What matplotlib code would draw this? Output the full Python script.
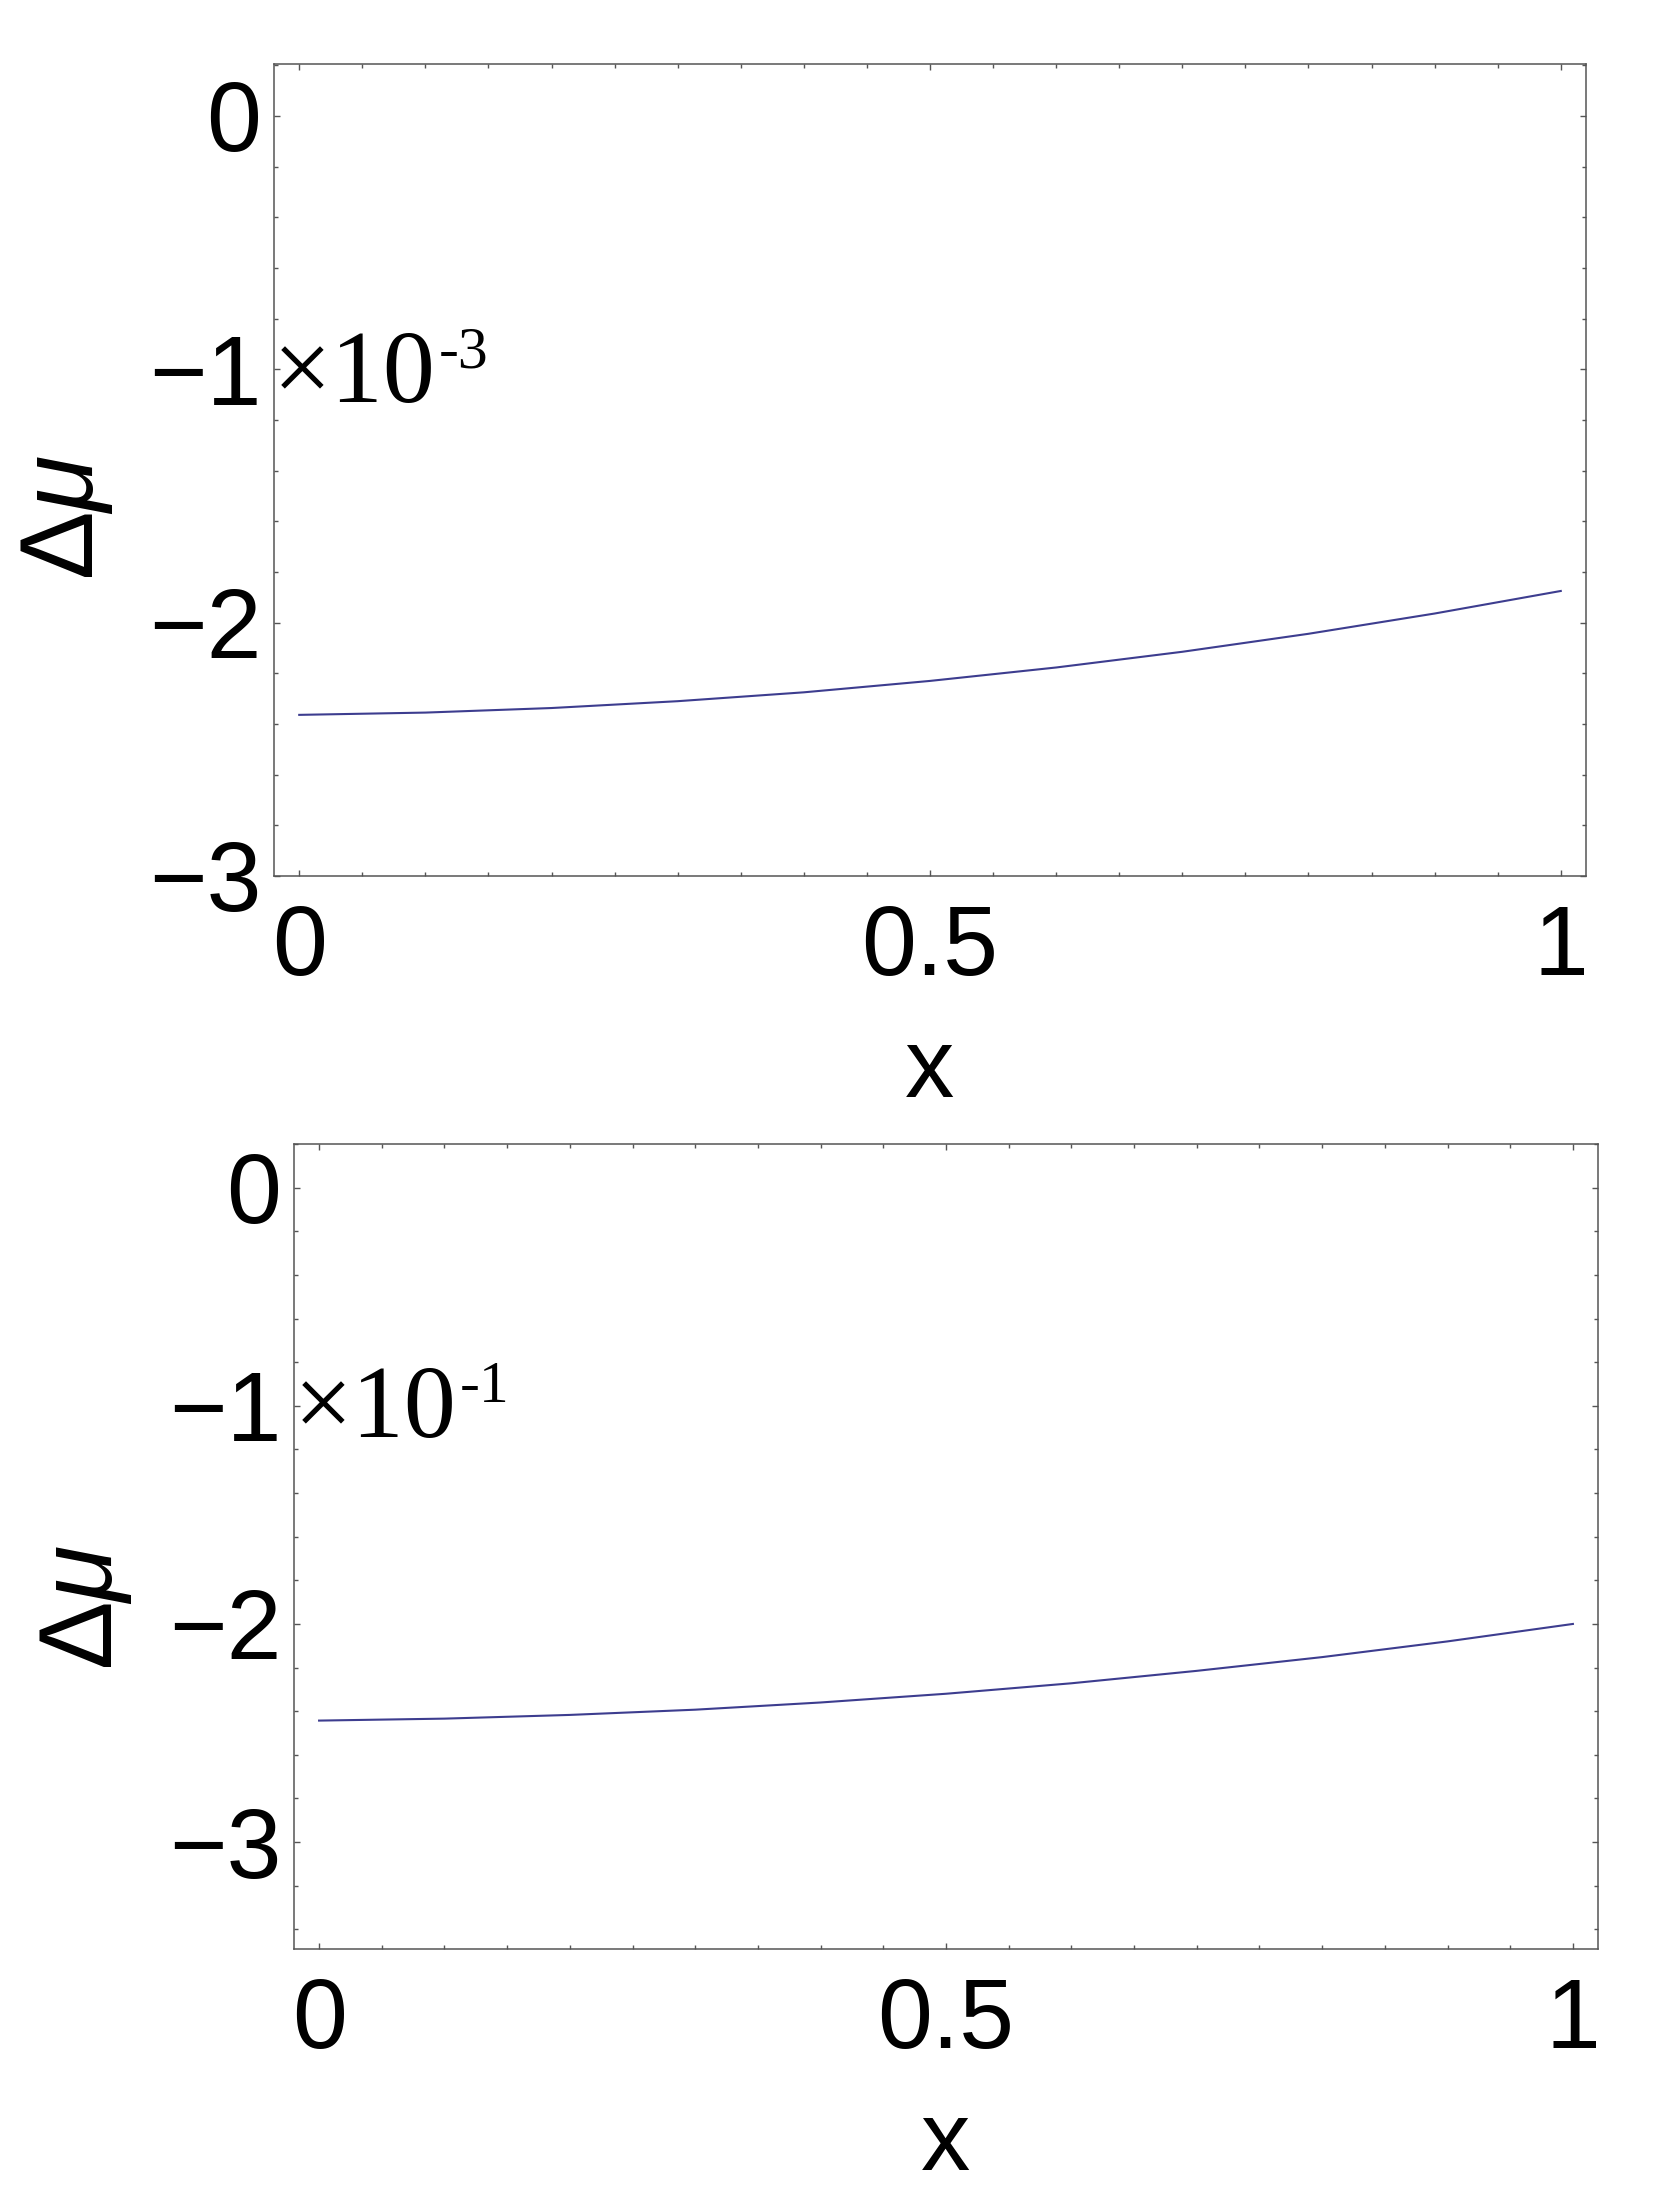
import matplotlib
matplotlib.use('Agg')
import numpy as np
from matplotlib import pyplot as plt
from matplotlib.ticker import FixedLocator, MultipleLocator, FuncFormatter

# values (delta mu in units of the multiplier)
x_vals = [0.0, 0.1, 0.2, 0.3, 0.4, 0.5, 0.6, 0.7, 0.8, 0.9, 1.0]
dmu_top = [-2.364, -2.355, -2.337, -2.310, -2.275, -2.230, -2.177, -2.115, -2.044, -1.964, -1.875]
dmu_bottom = [-2.443, -2.434, -2.417, -2.393, -2.360, -2.320, -2.272, -2.215, -2.152, -2.080, -2.000]

x_ticks = [0, 0.5, 1]
y_ticks_top = [0, -1, -2, -3]
y_ticks_bottom = [0, -1, -2, -3]
exp_top = '-3'
exp_bottom = '-1'

W, H = 1653, 2206
DPI = 100

plt.rcParams['font.family'] = ['Liberation Sans', 'DejaVu Sans']
plt.rcParams['mathtext.fontset'] = 'custom'
plt.rcParams['mathtext.rm'] = 'Liberation Sans'
plt.rcParams['mathtext.it'] = 'Liberation Sans:italic'

fig = plt.figure(figsize=(W / DPI, H / DPI), dpi=DPI)

line_color = '#3d3d8f'
frame_color = '#555555'

def fmt(v, pos):
    return ('%g' % v).replace('-', '\u2212')

def make_panel(box, xs, ys, ylim, yticks, exp, mult_xy, ylab_xy):
    # box is in pixels: left, top, right, bottom
    l, t, r, b = box
    ax = fig.add_axes([l / W, 1 - b / H, (r - l) / W, (b - t) / H])
    ax.plot(xs, ys, color=line_color, linewidth=1.5)
    ax.set_xlim(-0.02, 1.02)
    ax.set_ylim(*ylim)

    ax.xaxis.set_major_locator(FixedLocator(x_ticks))
    ax.xaxis.set_minor_locator(MultipleLocator(0.05))
    ax.yaxis.set_major_locator(FixedLocator(yticks))
    ax.yaxis.set_minor_locator(MultipleLocator(0.2))
    ax.xaxis.set_major_formatter(FuncFormatter(fmt))
    ax.yaxis.set_major_formatter(FuncFormatter(fmt))

    ax.tick_params(which='both', direction='in', top=True, right=True,
                   color=frame_color, width=1.0, labelsize=71)
    ax.tick_params(which='major', length=4.5)
    ax.tick_params(which='minor', length=3.2)
    ax.tick_params(axis='x', which='major', pad=20)
    ax.tick_params(axis='y', which='major', pad=9)
    for s in ax.spines.values():
        s.set_color(frame_color)
        s.set_linewidth(1.1)

    ax.set_xlabel('x', fontsize=71, va='baseline')
    ax.xaxis.set_label_coords(0.5, -221.0 / (b - t))
    ax.set_ylabel('\u0394$\\mu$', fontsize=74, rotation=90, ha='center', va='center')
    ax.yaxis.set_label_coords(*ylab_xy)

    # multiplier written inside the frame next to the -1 label
    ax.text(mult_xy[0], mult_xy[1], '\u00d710', family='Liberation Serif',
            fontsize=75, ha='left', va='baseline')
    ax.annotate(exp, xy=mult_xy, xycoords='data', xytext=(166, 35),
                textcoords='offset pixels', family='Liberation Serif',
                fontsize=43, ha='left', va='baseline', annotation_clip=False)
    return ax

ax1 = make_panel((274, 64, 1586, 876), x_vals, dmu_top, (-3.0, 0.205),
                 y_ticks_top, exp_top, (-0.0206, -1.13), (-0.1585, 0.442))
ax2 = make_panel((294, 1144, 1598, 1949), x_vals, dmu_bottom, (-3.49, 0.2),
                 y_ticks_bottom, exp_bottom, (-0.020, -1.145), (-0.16, 0.425))

fig.savefig('out.png', dpi=DPI)
